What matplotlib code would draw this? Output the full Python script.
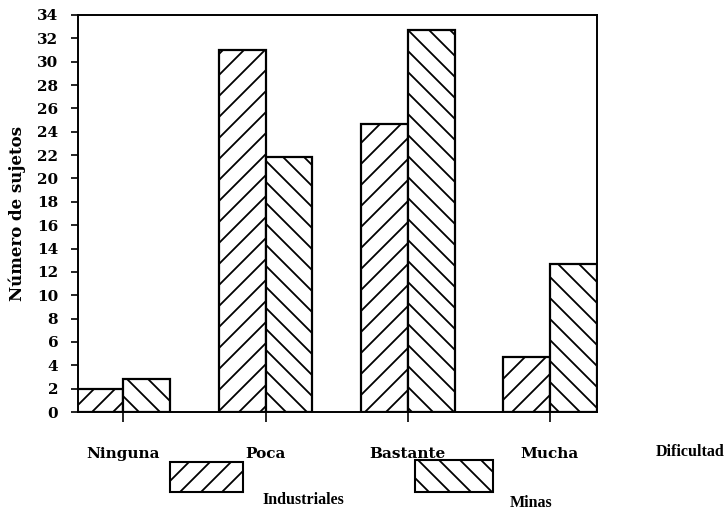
import numpy as np
import matplotlib.pyplot as plt
from matplotlib.patches import Rectangle

# render at a higher dpi so the hatch lines come out wider apart;
# every size in points is scaled back by s
DPI = 126
s = 100 / DPI

plt.rcParams['font.family'] = ['DejaVu Serif']
plt.rcParams['font.weight'] = 'bold'
plt.rcParams['hatch.linewidth'] = 1.3 * s

categorias = ['Ninguna', 'Poca', 'Bastante', 'Mucha']
industriales = [2.0, 31.0, 24.7, 4.7]
minas = [2.8, 21.8, 32.7, 12.7]
yticks = np.arange(0, 35, 2)

W, H = 727, 515
fig = plt.figure(figsize=(W / DPI, H / DPI), dpi=DPI)
ax = fig.add_axes([0.107, 0.2, 0.714, 0.771])

x = np.arange(len(categorias))
w = 0.33
ax.bar(x - w / 2, industriales, w, color='white', edgecolor='black',
       linewidth=1.6 * s, hatch='//')
ax.bar(x + w / 2, minas, w, color='white', edgecolor='black',
       linewidth=1.6 * s, hatch='\\\\')

ax.set_xlim(-0.32, 3.33)
ax.set_ylim(0, 34)
ax.set_yticks(yticks)
ax.set_yticklabels([str(t) for t in yticks], fontsize=11 * s, fontweight='bold')
ax.set_xticks(x)
ax.set_xticklabels(categorias, fontsize=11 * s, fontweight='bold')
ax.tick_params(axis='y', length=5 * s, width=1.2 * s, pad=9 * s)
ax.tick_params(axis='x', length=7 * s, width=1.2 * s, pad=18 * s)
for sp in ax.spines.values():
    sp.set_linewidth(1.4 * s)

ax.set_ylabel('Número de sujetos', fontsize=12 * s, fontweight='bold',
              labelpad=8 * s)
fig.text(0.949, 0.122, 'Dificultad', fontsize=11.5 * s, fontweight='bold',
         family='Liberation Serif', ha='center', va='center')

# leyenda con cajas rayadas
for x0, y0, bw, bh, hatch, label, tx, ty in [
        (170, 462, 73, 30, '//', 'Industriales', 262, 500),
        (415, 460, 78, 32, '\\\\', 'Minas', 510, 503)]:
    fig.patches.append(Rectangle((x0 / W, 1 - (y0 + bh) / H), bw / W, bh / H,
                                 transform=fig.transFigure, facecolor='white',
                                 edgecolor='black', linewidth=1.5 * s,
                                 hatch=hatch))
    fig.text(tx / W, 1 - ty / H, label, fontsize=11.5 * s, fontweight='bold',
             family='Liberation Serif', ha='left', va='center')

fig.savefig('out.png', dpi=DPI)
